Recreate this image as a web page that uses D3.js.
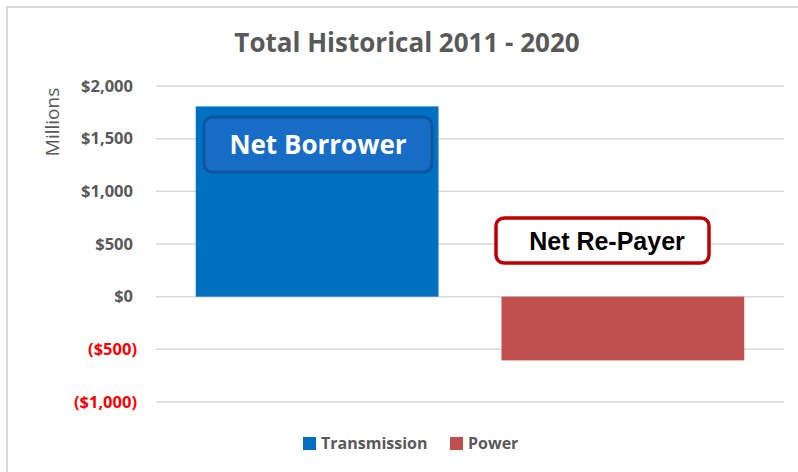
<!DOCTYPE html>
<html>
<head>
<meta charset="utf-8">
<script src="https://cdn.jsdelivr.net/npm/d3@7"></script>
<style>
  body { margin: 0; background: #fff; }
  svg { display: block; font-family: "Open Sans", "Noto Sans", sans-serif; }
</style>
</head>
<body>
<svg id="chart" width="798" height="472"></svg>
<script>
// Chart data
var categories = ['Transmission', 'Power'];
var values = [1806, -605];
var colors = ['#0070c0', '#c0504d'];
var tickValues = [-1000, -500, 0, 500, 1000, 1500, 2000];

var svg = d3.select('#chart');

// Chart area frame (only left + top visible in reference)
svg.append('path').attr('d', 'M7,472V7H798').attr('fill', 'none')
  .attr('stroke', '#d9d9d9').attr('stroke-width', 2);

var x = d3.scaleBand().domain(categories).range([156, 784]).paddingInner(0.206).paddingOuter(0.13);
var y = d3.scaleLinear().domain([-1000, 2000]).range([402, 86]);

// Gridlines
svg.append('g').selectAll('line').data(tickValues).join('line')
  .attr('x1', 156).attr('x2', 784)
  .attr('y1', function(d) { return y(d); }).attr('y2', function(d) { return y(d); })
  .attr('stroke', '#d9d9d9').attr('stroke-width', 1.5);

// Y axis labels
var fmt = function(d) {
  var s = '$' + d3.format(',')(Math.abs(d));
  return d < 0 ? '(' + s + ')' : s;
};
var yAxis = svg.append('g').attr('transform', 'translate(136,0)')
  .call(d3.axisLeft(y).tickValues(tickValues).tickFormat(fmt).tickSize(0));
yAxis.select('.domain').remove();
yAxis.selectAll('text')
  .attr('x', function(d) { return d < 0 ? 1 : -3; })
  .style('font-size', '16.5px').style('font-weight', 'bold')
  .style('font-family', '"Open Sans", sans-serif')
  .attr('fill', function(d) { return d < 0 ? '#ff0000' : '#595959'; });

// Bars
svg.append('g').selectAll('rect').data(categories).join('rect')
  .attr('x', function(d) { return x(d); })
  .attr('width', x.bandwidth())
  .attr('y', function(d, i) { return y(Math.max(0, values[i])); })
  .attr('height', function(d, i) { return Math.abs(y(values[i]) - y(0)); })
  .attr('fill', function(d, i) { return colors[i]; });

// Title
svg.append('text').attr('x', 407).attr('y', 52).attr('text-anchor', 'middle')
  .attr('fill', '#595959').style('font-size', '26px').style('font-weight', 'bold')
  .text('Total Historical 2011 - 2020');

// Y axis title
svg.append('text').attr('transform', 'translate(59,122) rotate(-90)')
  .attr('text-anchor', 'middle').attr('fill', '#595959').style('font-size', '19px')
  .text('Millions');

// Annotation boxes
svg.append('rect').attr('x', 204).attr('y', 117).attr('width', 228).attr('height', 55)
  .attr('rx', 8).attr('fill', '#176dc6').attr('stroke', '#0d56a0').attr('stroke-width', 3);
svg.append('text').attr('x', 318).attr('y', 154).attr('text-anchor', 'middle')
  .attr('fill', '#fff').style('font-size', '26px').style('font-weight', 'bold')
  .text('Net Borrower');

svg.append('rect').attr('x', 496).attr('y', 218).attr('width', 213).attr('height', 45)
  .attr('rx', 8).attr('fill', '#fff').attr('stroke', '#c00000').attr('stroke-width', 3.5);
svg.append('text').attr('x', 607).attr('y', 250).attr('text-anchor', 'middle')
  .attr('fill', '#000').style('font-size', '25px').style('font-weight', 'bold')
  .style('font-family', '"Liberation Sans", sans-serif')
  .text('Net Re-Payer');

// Legend
var legendX = [303, 450];
var legend = svg.append('g').selectAll('g').data(categories).join('g')
  .attr('transform', function(d, i) { return 'translate(' + legendX[i] + ',437)'; });
legend.append('rect').attr('width', 13).attr('height', 13)
  .attr('fill', function(d, i) { return colors[i]; });
legend.append('text').attr('x', 18).attr('y', 12)
  .attr('fill', '#595959').style('font-size', '16px').style('font-weight', 'bold')
  .text(function(d) { return d; });
</script>
</body>
</html>
